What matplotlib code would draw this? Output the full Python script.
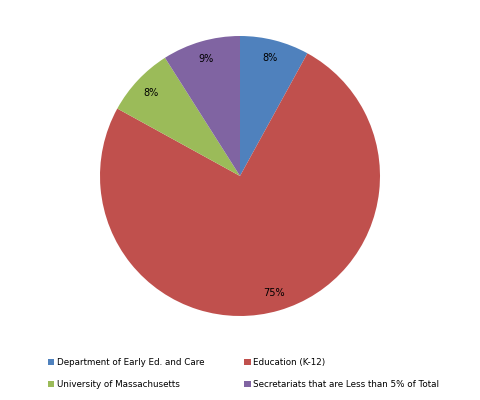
import matplotlib
matplotlib.use("Agg")
import matplotlib.pyplot as plt

categories = ["Department of Early Ed. and Care", "Education (K-12)",
              "University of Massachusetts", "Secretariats that are Less than 5% of Total"]
values = [8, 75, 8, 9]
colors = ["#4F81BD", "#C0504D", "#9BBB59", "#8064A2"]

fig = plt.figure(figsize=(4.8, 4.0), dpi=100)
ax = fig.add_axes([100/480, 84/400, 280/480, 280/400])
wedges, texts, autotexts = ax.pie(values, colors=colors, startangle=90, counterclock=False,
                                  autopct="%d%%", pctdistance=0.87,
                                  textprops=dict(fontsize=7, color="black"),
                                  wedgeprops=dict(linewidth=0))
ax.set_xlim(-1, 1)
ax.set_ylim(-1, 1)
ax.set_aspect("equal")

order = [0, 2, 1, 3]
fig.legend([wedges[i] for i in order], [categories[i] for i in order],
           ncol=2, loc="upper left", bbox_to_anchor=(40/480, 1 - 350/400),
           frameon=False, fontsize=6.3, handlelength=0.7, handleheight=0.7,
           handletextpad=0.3, columnspacing=4.6, labelspacing=1.55)

fig.savefig("out.png", dpi=100)
